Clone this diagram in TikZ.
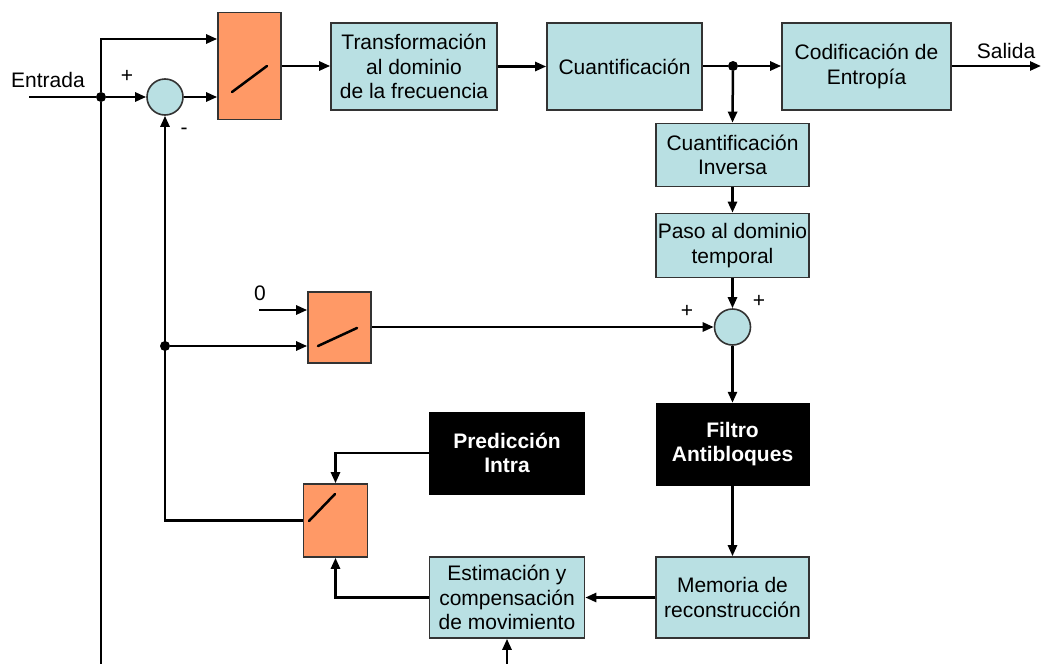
\documentclass[tikz,border=0pt]{standalone}
\usepackage{fontspec}
\setmainfont{Liberation Sans}
\usetikzlibrary{arrows.meta,calc}
\definecolor{boxcyan}{HTML}{B9E0E3}
\definecolor{swor}{HTML}{FF9966}
\definecolor{edge}{HTML}{333333}
\begin{document}
\begin{tikzpicture}[x=1pt,y=-1pt,
  txt/.style={font=\fontsize{21}{24.5}\selectfont},
  blk/.style 2 args={draw=edge, line width=1.6pt, fill=boxcyan, rectangle,
    minimum width=#1pt, minimum height=#2pt, inner sep=0pt, align=center, txt},
  dark/.style 2 args={draw=black, fill=black, rectangle, text=white,
    minimum width=#1pt, minimum height=#2pt, inner sep=0pt, align=center,
    font=\fontsize{21}{24.5}\selectfont\bfseries},
  swbox/.style 2 args={draw=edge, line width=1.6pt, fill=swor, rectangle,
    minimum width=#1pt, minimum height=#2pt, inner sep=0pt},
  sumnode/.style={draw=edge, line width=1.6pt, fill=boxcyan, circle,
    minimum size=36pt, inner sep=0pt},
  wire/.style={line width=2.5pt, draw=black},
  arr/.style={wire, -{Triangle[length=11pt,width=9pt]}},
  dotnode/.style={circle, fill=black, inner sep=0pt, minimum size=10pt},
  switchbar/.style={line width=2.5pt, line cap=round}]
\useasboundingbox (0,0) rectangle (1042,664);
\fill[white] (0,0) rectangle (1042,664);

% forward path
\node[swbox={63}{107}] (sw1) at (249.5,66) {};
\node[blk={166}{87}] (tf) at (414,66.5) {Transformación\\al dominio\\de la frecuencia};
\node[blk={155}{87}] (q) at (624.5,66.5) {Cuantificación};
\node[blk={169}{87}] (ce) at (866.5,66.5) {Codificación de\\Entropía};

% reconstruction loop
\node[blk={153}{63}] (qi) at (732.5,155) {Cuantificación\\Inversa};
\node[blk={153}{64}] (pd) at (732.5,245.5) {Paso al dominio\\temporal};
\node[sumnode] (sum2) at (732.5,327) {};
\node[dark={153}{82}] (filt) at (732.5,444) {Filtro\\Antibloques};
\node[blk={153}{81}] (mem) at (732.5,597.5) {Memoria de\\reconstrucción};
\node[blk={155}{81}] (est) at (507,597.5) {Estimación y\\compensación\\de movimiento};
\node[dark={155}{82}] (pi) at (507,453) {Predicción\\Intra};

% switches and input summer
\node[swbox={63}{71}] (sw2) at (339.5,327.5) {};
\node[swbox={64}{73}] (sw3) at (335.5,520.5) {};
\node[sumnode] (sum1) at (165,97) {};

% junctions and free ends
\node[dotnode] (j1) at (101,97) {};
\node[dotnode] (j2) at (733,66) {};
\node[dotnode] (j3) at (165,346) {};
\coordinate (inp) at (29,97);
\coordinate (outp) at (1041,66);
\coordinate (zero) at (259,310);
\coordinate (bot1) at (101,664);
\coordinate (bot2) at (507,664);

% switch blades
\draw[switchbar] (232,92) -- (267,66);
\draw[switchbar] (318,346) -- (357,328);
\draw[switchbar] (309,521) -- (335,494);

% labels
\node[txt] (lin) at (48,80) {Entrada};
\node[txt] (lout) at (1006,51) {Salida};
\node[txt] (p1) at (127,76) {+};
\node[txt] (m1) at (184,131) {-};
\node[txt] (l0) at (260,293) {0};
\node[txt] (p2) at (687,311) {+};
\node[txt] (p3) at (759,301) {+};

% connectors
\draw[wire] (inp) -- (j1);
\draw[arr] (j1) -- (sum1.west);
\draw[arr] (j1) |- (sw1.west |- 0,39);
\draw[wire] (j1) -- (bot1);
\draw[arr] (sum1.east) -- (sum1 -| sw1.west);
\draw[arr] (sw1.east) -- (sw1 -| tf.west);
\draw[arr] (tf) -- (tf -| q.west);
\draw[wire] (q.east |- j2) -- (j2);
\draw[arr] (j2) -- (j2 -| ce.west);
\draw[arr] (ce.east |- outp) -- (outp);
\draw[arr] (j2) -- (qi.north);
\draw[arr] (qi) -- (pd);
\draw[arr] (pd) -- (sum2);
\draw[arr] (sum2) -- (filt);
\draw[arr] (filt) -- (mem);
\draw[arr] (mem) -- (est);
\draw[arr] (bot2) -- (est.south);
\draw[arr] (est.west) -| (sw3.south);
\draw[arr] (pi.west) -| (sw3.north);
\draw[arr] (sw3.west) -| (sum1.south);
\draw[arr] (j3) -- (j3 -| sw2.west);
\draw[arr] (zero) -- (zero -| sw2.west);
\draw[arr] (sw2.east |- sum2) -- (sum2.west);
\end{tikzpicture}
\end{document}
